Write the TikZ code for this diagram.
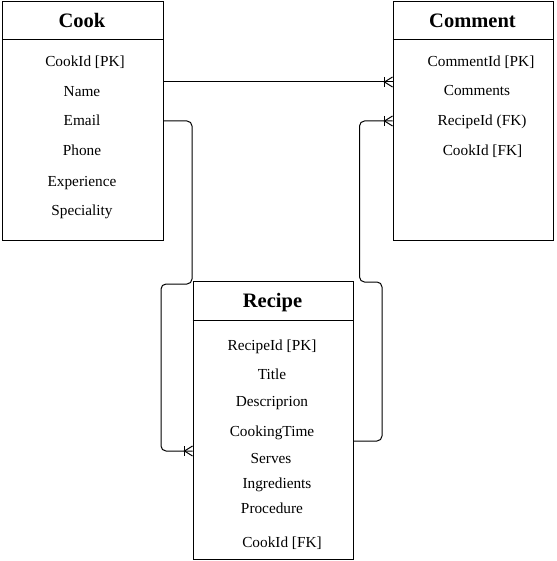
\documentclass[tikz,border=0pt]{standalone}
\usepackage{fontspec}
\setmainfont{Liberation Serif}
\usetikzlibrary{calc}
\newcommand\crowfoot[1]{%
  \draw[crow] ($(#1)+(-8,-5)$) -- ($(#1)+(-8,5)$);
  \draw[crow] ($(#1)+(0,-5)$) -- ($(#1)+(-8,0)$) -- ($(#1)+(0,5)$);}
\begin{document}
\begin{tikzpicture}[x=1pt,y=-1pt,
  ent/.style={draw, line width=1pt, anchor=north west, minimum width=160.5pt, inner sep=0pt},
  ttl/.style={font=\fontsize{20.5}{24}\selectfont\bfseries, inner sep=0pt, anchor=base},
  fld/.style={font=\fontsize{15.3}{18}\selectfont, inner sep=0pt, anchor=base},
  conn/.style={line width=1pt, rounded corners=5pt},
  crow/.style={line width=1pt}]
\useasboundingbox (0,0) rectangle (556,561);

% entities
\node[ent, minimum height=239pt] (cook) at (2,1) {};
\node[ent, minimum height=239pt] (comment) at (392.5,1) {};
\node[ent, minimum height=278pt] (recipe) at (192.5,281) {};

\draw[line width=1pt] (cook.west |- 0,40) -- (cook.east |- 0,40);
\draw[line width=1pt] (comment.west |- 0,40) -- (comment.east |- 0,40);
\draw[line width=1pt] (recipe.west |- 0,320) -- (recipe.east |- 0,320);

% titles
\node[ttl] (cookT) at (82,27.5) {Cook};
\node[ttl] (commentT) at (472.5,27.5) {Comment};
\node[ttl] (recipeT) at (272.5,307.5) {Recipe};

% Cook fields
\node[fld] (ck1) at (85,66.5) {CookId [PK]};
\node[fld] (ck2) at (82,96.5) {Name};
\node[fld] (ck3) at (82,126) {Email};
\node[fld] (ck4) at (82,156) {Phone};
\node[fld] (ck5) at (82,186) {Experience};
\node[fld] (ck6) at (82,215.5) {Speciality};

% Comment fields
\node[fld] (cm1) at (481,66.5) {CommentId [PK]};
\node[fld] (cm2) at (477,96) {Comments};
\node[fld] (cm3) at (482,126) {RecipeId (FK)};
\node[fld] (cm4) at (482.5,155.5) {CookId [FK]};

% Recipe fields
\node[fld] (rc1) at (272,350) {RecipeId [PK]};
\node[fld] (rc2) at (272,379.5) {Title};
\node[fld] (rc3) at (272,406) {Descriprion};
\node[fld] (rc4) at (272,436.5) {CookingTime};
\node[fld] (rc5) at (271,463) {Serves};
\node[fld] (rc6) at (277,488.5) {Ingredients};
\node[fld] (rc7) at (272,513.5) {Procedure};
\node[fld] (rc8) at (282,547) {CookId [FK]};

% connectors
\coordinate (s1) at (cook.east |- 0,82);
\coordinate (e1) at (comment.west |- 0,82);
\draw[conn] (s1) -- (e1);
\crowfoot{e1}

\coordinate (s2) at (cook.east |- 0,121);
\coordinate (e2) at (recipe.west |- 0,451);
\draw[conn] (s2) -- (192,121) -- (192,284) -- (161,284) -- (161,451) -- (e2);
\crowfoot{e2}

\coordinate (s3) at (recipe.east |- 0,441);
\coordinate (e3) at (comment.west |- 0,121);
\draw[conn] (s3) -- (382,441) -- (382,282) -- (359.5,282) -- (359.5,121) -- (e3);
\crowfoot{e3}
\end{tikzpicture}
\end{document}
